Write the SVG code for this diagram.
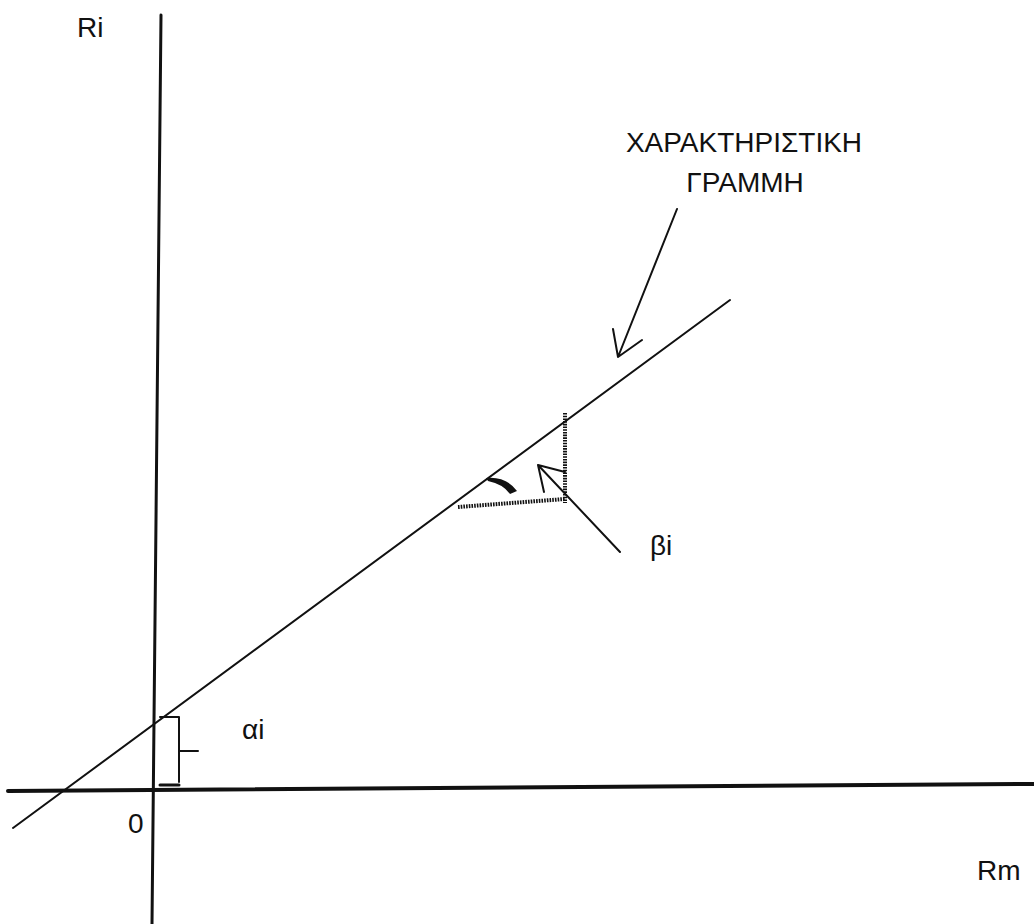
<svg xmlns="http://www.w3.org/2000/svg" width="1034" height="924" viewBox="0 0 1034 924">
  <style>
    .lbl { font-family: "Liberation Sans", Arial, sans-serif; font-size: 28px; fill: #111; }
    .ln { stroke: #111; fill: none; stroke-linecap: round; stroke-linejoin: round; }
    .dot { stroke: #111; fill: none; stroke-width: 4; stroke-dasharray: 1.6 1.1; }
  </style>
  <rect width="1034" height="924" fill="#fff"/>
  <g id="axes">
    <line class="ln" x1="161" y1="15" x2="152" y2="924" stroke-width="3"/>
    <line class="ln" x1="8" y1="791" x2="1034" y2="784" stroke-width="4" stroke-linecap="butt"/>
  </g>
  <g id="characteristic-line">
    <line class="ln" x1="13" y1="828" x2="730" y2="300" stroke-width="2"/>
  </g>
  <g id="slope-marker">
    <line class="dot" x1="458" y1="507" x2="565" y2="499"/>
    <line class="dot" x1="565" y1="413" x2="565" y2="503"/>
    <path d="M486,478 Q506,476 517,491 L510,494 Q503,484 488,481 Z" fill="#111"/>
  </g>
  <g id="alpha-brace">
    <path class="ln" d="M160,717 H179 V782 M180,751 H198" stroke-width="2"/>
    <path class="ln" d="M160,785 H179" stroke-width="3"/>
  </g>
  <g id="connectors">
    <path class="ln" d="M677,209 L618,357 M613,329 L618,357 L642,340" stroke-width="2"/>
    <path class="ln" d="M620,552 L538,465 M544,492 L538,465 L565,472" stroke-width="2"/>
  </g>
  <g id="labels">
    <text class="lbl" x="77" y="37">Ri</text>
    <text class="lbl" x="744" y="152" text-anchor="middle" font-size="27">ΧΑΡΑΚΤΗΡΙΣΤΙΚΗ</text>
    <text class="lbl" x="745" y="192" text-anchor="middle" font-size="27">ΓΡΑΜΜΗ</text>
    <text class="lbl" x="650" y="555">βi</text>
    <text class="lbl" x="242" y="739">αi</text>
    <text class="lbl" x="128" y="833">0</text>
    <text class="lbl" x="977" y="880">Rm</text>
  </g>
</svg>
